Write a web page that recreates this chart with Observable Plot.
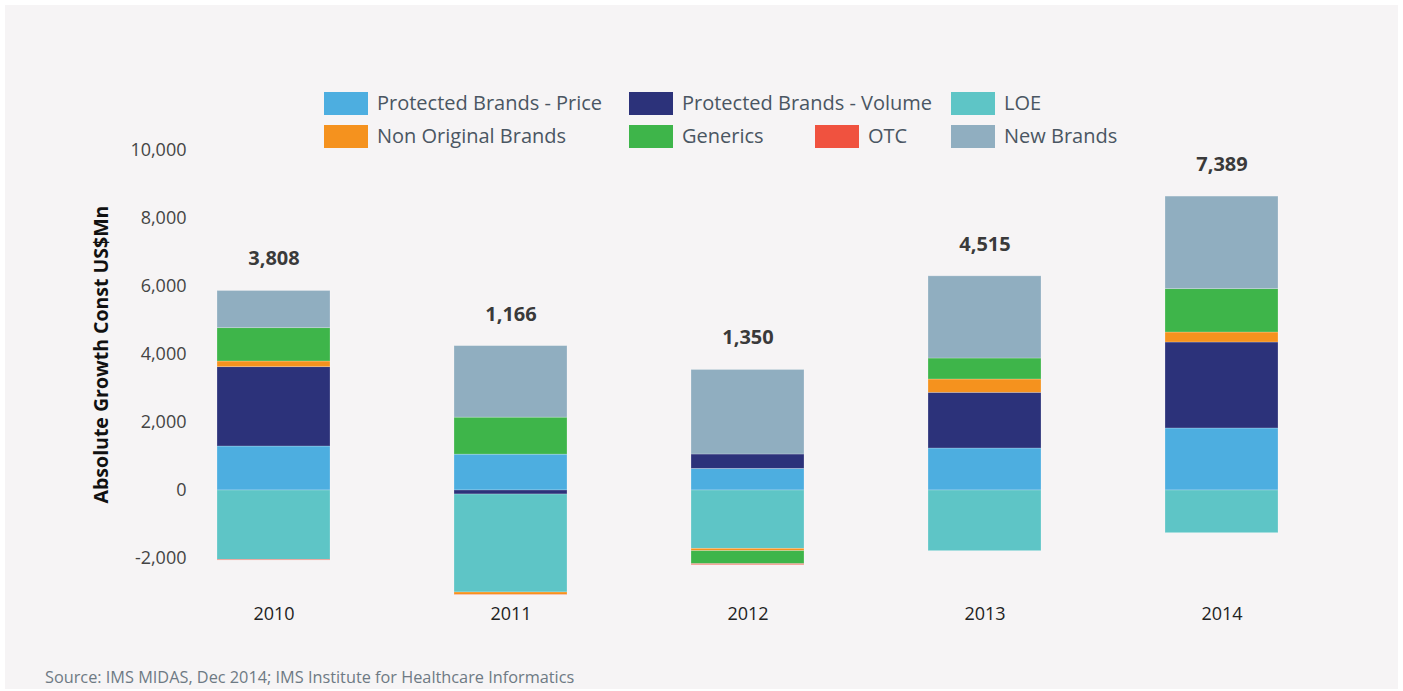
<!DOCTYPE html>
<html>
<head>
<meta charset="utf-8">
<script src="https://cdn.jsdelivr.net/npm/d3@7"></script>
<script src="https://cdn.jsdelivr.net/npm/@observablehq/plot@0.6"></script>
<style>
  html, body { margin: 0; padding: 0; background: #ffffff; }
  body { position: relative; width: 1403px; height: 691px; overflow: hidden; font-family: "Open Sans", Lato, sans-serif; }
  #panel { position: absolute; left: 5px; top: 5px; width: 1393px; height: 684px; background: #f6f4f5; }
  #chart { position: absolute; left: 0; top: 0; }
  #legend { position: absolute; left: 0; top: 0; width: 1403px; height: 160px; }
  .sw { position: absolute; width: 44px; height: 23px; }
  .lt { position: absolute; font-size: 20px; color: #4a5662; line-height: 23px; white-space: nowrap; }
  #caption { position: absolute; left: 45px; top: 666px; font-size: 16.3px; color: #6e7a84; white-space: nowrap; }
  g[aria-label="y-axis label"] text { font-weight: bold; font-size: 19.5px; fill: #111; }
</style>
</head>
<body>
<div id="panel"></div>
<div id="chart"></div>
<div id="legend"></div>
<div id="caption">Source: IMS MIDAS, Dec 2014; IMS Institute for Healthcare Informatics</div>
<script>
// ---- Data ----
const years = ["2010", "2011", "2012", "2013", "2014"];
const seriesNames = ["Protected Brands - Price", "Protected Brands - Volume", "LOE", "Non Original Brands", "Generics", "OTC", "New Brands"];
const seriesColors = ["#4daee0", "#2c327a", "#5ec5c6", "#f5921e", "#3eb54a", "#f0523f", "#90aec0"];
const price      = [1294, 1055, 637, 1235, 1824];
const volume     = [2333, -118, 422, 1638, 2529];
const loe        = [-2040, -2882, -1716, -1784, -1255];
const nonOrig    = [167, -70, -68, 392, 294];
const generics   = [980, 1088, -382, 617, 1275];
const otc        = [-20, -10, -29, 0, 0];
const newBrands  = [1094, 2103, 2486, 2417, 2722];
const totals     = [3808, 1166, 1350, 4515, 7389];
const yTicks     = [-2000, 0, 2000, 4000, 6000, 8000, 10000];

const seriesValues = [price, volume, loe, nonOrig, generics, otc, newBrands];
const rows = [];
years.forEach((yr, i) => {
  seriesNames.forEach((s, j) => rows.push({year: yr, series: s, value: seriesValues[j][i]}));
});
const totalRows = years.map((yr, i) => ({
  year: yr,
  top: seriesValues.reduce((a, arr) => a + Math.max(0, arr[i]), 0),
  label: totals[i].toLocaleString("en-US")
}));

const chart = Plot.plot({
  width: 1403,
  height: 640,
  marginTop: 150,
  marginBottom: 82,
  marginLeft: 190,
  marginRight: 0,
  style: { background: "transparent", fontFamily: "'Open Sans', Lato, sans-serif" },
  x: { domain: years, range: [93, 1403], padding: 0.522 },
  y: { domain: [-2000, 10000] },
  color: { domain: seriesNames, range: seriesColors },
  marks: [
    Plot.axisY({
      ticks: yTicks, tickSize: 0, tickPadding: 4,
      tickFormat: d => d.toLocaleString("en-US"),
      fontSize: 18, fill: "#444",
      label: "Absolute Growth Const US$Mn", labelAnchor: "center", labelArrow: "none", labelOffset: 96
    }),
    Plot.axisX({ tickSize: 0, tickPadding: 49, fontSize: 18, fill: "#222", label: null }),
    Plot.barY(rows, Plot.stackY({
      x: "year", y: "value", fill: "series",
      stroke: "#ffffff", strokeOpacity: 0.3, strokeWidth: 0.75
    })),
    Plot.text(totalRows, {
      x: "year", y: "top", text: "label", dy: -32,
      fontSize: 20, fontWeight: "bold", fill: "#3a3a3a"
    })
  ]
});
document.getElementById("chart").appendChild(chart);

// ---- Legend ----
const legendPos = [
  [324, 92], [629, 92], [951, 92],
  [324, 125], [629, 125], [815, 125], [951, 125]
];
const legend = document.getElementById("legend");
seriesNames.forEach((name, i) => {
  const [lx, ly] = legendPos[i];
  const sw = document.createElement("div");
  sw.className = "sw";
  sw.style.left = lx + "px"; sw.style.top = ly + "px";
  sw.style.background = seriesColors[i];
  legend.appendChild(sw);
  const t = document.createElement("div");
  t.className = "lt";
  t.style.left = (lx + 53) + "px"; t.style.top = (ly - 1) + "px";
  t.textContent = name;
  legend.appendChild(t);
});
</script>
</body>
</html>
